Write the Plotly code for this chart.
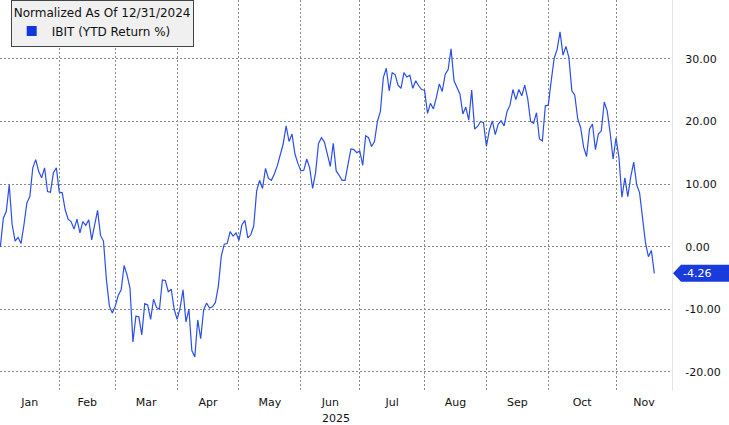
import plotly.graph_objects as go

# ---- data (YTD return %, normalized as of 12/31/2024, one value per trading day) ----
month_names = ["Jan", "Feb", "Mar", "Apr", "May", "Jun", "Jul", "Aug", "Sep", "Oct", "Nov"]
month_trading_days = [20, 19, 21, 21, 21, 20, 22, 21, 21, 23, 19]
year_label = "2025"
series_name = "IBIT (YTD Return %)"
legend_title = "Normalized As Of 12/31/2024"

base = [0.0]  # 12/31/2024
jan = [4.6, 5.6, 9.9, 3.5, 0.9, 1.5, 0.5, 3.5, 7.0, 8.0, 12.6, 13.9, 12.0, 11.0, 12.6, 8.8, 8.7, 11.8, 12.6, 8.7]
feb = [8.6, 5.9, 4.4, 4.0, 2.8, 4.4, 2.2, 4.0, 3.4, 4.3, 1.1, 3.5, 5.8, 1.8, 0.9, -5.3, -9.5, -10.6, -9.5]
mar = [-7.8, -6.9, -3.0, -4.5, -6.6, -15.2, -11.1, -11.2, -14.1, -9.1, -9.3, -11.6, -8.4, -9.7, -10.0, -5.3, -5.4,
       -7.2, -6.8, -10.0, -11.6]
apr = [-9.8, -6.9, -12.0, -10.0, -16.6, -17.6, -11.7, -14.7, -10.1, -9.0, -9.8, -9.6, -8.9, -6.3, -1.5, 0.4, 0.5,
       2.4, 1.7, 2.2, 1.0]
may = [3.5, 4.2, 1.4, 1.9, 3.3, 8.9, 10.6, 9.3, 12.5, 10.9, 10.6, 11.6, 12.9, 14.8, 16.4, 19.3, 16.8, 18.0, 14.8,
       13.3, 12.1]
jun = [12.2, 14.0, 12.6, 9.3, 11.8, 16.5, 17.4, 16.7, 14.8, 12.8, 16.5, 12.1, 11.4, 10.6, 10.6, 13.2, 15.6, 15.5,
       15.0, 15.3]
jul = [13.0, 17.7, 17.4, 16.0, 16.8, 20.0, 21.6, 27.0, 28.5, 24.9, 27.8, 27.5, 25.8, 25.3, 27.8, 27.1, 27.4, 25.3,
       26.5, 25.7, 25.1, 25.0]
aug = [21.3, 22.9, 22.0, 23.8, 26.0, 24.8, 27.5, 28.3, 31.6, 26.5, 25.4, 24.4, 21.2, 22.3, 20.2, 25.0, 18.8, 19.2,
       20.0, 19.8, 16.0]
sep = [18.6, 20.1, 17.9, 19.6, 20.1, 19.3, 21.6, 22.6, 25.1, 23.5, 25.1, 24.1, 25.8, 23.7, 20.0, 19.7, 21.4, 17.2,
       16.9, 22.5, 22.6]
oct_ = [26.5, 30.1, 31.5, 34.3, 30.6, 32.0, 30.2, 24.9, 24.2, 20.4, 19.0, 15.9, 14.4, 18.8, 19.6, 15.5, 18.0, 18.5,
        23.1, 21.7, 18.2, 14.0, 17.4]
nov = [14.2, 7.9, 11.0, 8.0, 11.2, 13.5, 9.9, 8.6, 4.6, 0.6, -1.6, -0.6, -4.26]

y_tick_values = [-20, -10, 0, 10, 20, 30]

# ---- build series on a trading-day axis ----
values = base + jan + feb + mar + apr + may + jun + jul + aug + sep + oct_ + nov
xs = list(range(len(values)))

ends = []
c = 0
for n in month_trading_days:
    c += n
    ends.append(c)
starts = [0] + ends[:-1]
centers = [(s + e) / 2 for s, e in zip(starts, ends)]
boundaries = ends[:-1]

FONT = "DejaVu Sans"
LINE = "#2a4fe6"
TAG = "#1a3bdb"
GRID = "#8a8a8a"

x_range = [-0.13, ends[-1]]
y_range = [-23.05, 39.4]

W, H = 729, 425
ML, MR, MT, MB = 0, 57, 0, 34
plot_w = W - ML - MR
plot_h = H - MT - MB
px_per_unit = plot_h / (y_range[1] - y_range[0])

fig = go.Figure()
fig.add_trace(go.Scatter(x=xs, y=values, mode="lines", line=dict(color=LINE, width=1.2),
                         showlegend=False, name=series_name))
fig.add_trace(go.Scatter(x=[None], y=[None], mode="markers", name=series_name,
                         marker=dict(symbol="square", size=10, color="#1237df")))

# last value tag on the right axis
last = values[-1]
hh = 8.5 / px_per_unit
def px(p):
    return p / plot_w
tag_path = (f"M {px(plot_w + 1)},{last} L {px(plot_w + 9)},{last + hh} L {px(W)},{last + hh} "
            f"L {px(W)},{last - hh} L {px(plot_w + 9)},{last - hh} Z")
fig.add_shape(type="path", path=tag_path, xref="paper", yref="y", fillcolor=TAG, line=dict(width=0))
fig.add_annotation(x=px(697), y=last, xref="paper", yref="y", text=f"{last:.2f}", showarrow=False,
                   font=dict(family=FONT, size=11, color="white"), xanchor="center", yanchor="middle")

fig.add_annotation(x=0.5, y=0, xref="paper", yref="paper", text=year_label, showarrow=False,
                   yanchor="top", yshift=-19, font=dict(family=FONT, size=11, color="#111"))

fig.update_layout(
    width=W, height=H, autosize=False,
    margin=dict(l=ML, r=MR, t=MT, b=MB),
    plot_bgcolor="white", paper_bgcolor="white",
    font=dict(family=FONT, size=11, color="#111"),
    legend=dict(x=px(10.7), y=1.0, xanchor="left", yanchor="top",
                bgcolor="#f0f0f0", bordercolor="#444", borderwidth=1,
                title=dict(text=legend_title, font=dict(family=FONT, size=12, color="#111")),
                font=dict(family=FONT, size=12, color="#111"), itemwidth=30, tracegroupgap=0),
    xaxis=dict(range=x_range, tickmode="array", tickvals=centers, ticktext=month_names,
               showgrid=False, zeroline=False, ticks="", showline=False, ticklabelstandoff=3,
               tickfont=dict(family=FONT, size=11, color="#111"),
               minor=dict(tickmode="array", tickvals=boundaries, showgrid=True, gridcolor=GRID,
                          griddash="2px,2px", gridwidth=1, ticks="")),
    yaxis=dict(range=y_range, side="right", tickmode="array", tickvals=y_tick_values,
               ticktext=[f"{v:.2f}" for v in y_tick_values], showgrid=True, gridcolor=GRID,
               griddash="2px,2px", gridwidth=1, zeroline=False, ticks="", ticklabelstandoff=10,
               showline=True, linecolor="#e4e4e4", linewidth=1,
               tickfont=dict(family=FONT, size=11, color="#111")),
)

fig.write_html("out.html")
